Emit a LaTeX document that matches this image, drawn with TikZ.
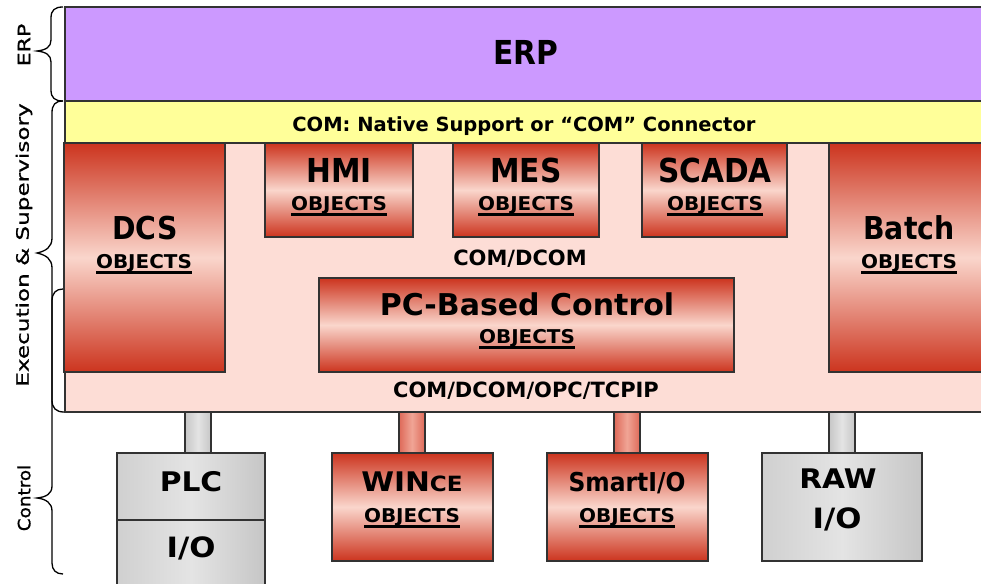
\documentclass[tikz,border=0pt]{standalone}
\usepackage{fontspec}
\setmainfont{DejaVu Sans}
\newfontfamily\fN{DejaVu Sans}[FakeStretch=0.9]
\newfontfamily\fW{DejaVu Sans}[FakeStretch=1.1]
\newfontfamily\fR{DejaVu Sans}
\newfontfamily\fO{DejaVu Sans}[FakeStretch=1.05]
\newfontfamily\fLa{DejaVu Sans}[FakeStretch=1.3,FakeBold=1]
\newfontfamily\fLb{DejaVu Sans}[FakeStretch=1.36,FakeBold=1]
\newfontfamily\fLc{DejaVu Sans}[FakeStretch=1.08,FakeBold=1]
\usetikzlibrary{fit,calc}
\definecolor{erpc}{RGB}{204,153,255}
\definecolor{comc}{RGB}{255,255,153}
\definecolor{bgc}{RGB}{253,221,214}
\definecolor{rdark}{RGB}{204,52,30}
\definecolor{rlight}{RGB}{250,214,204}
\definecolor{gdark}{RGB}{198,198,198}
\definecolor{glight}{RGB}{228,228,228}
\definecolor{gmid}{RGB}{208,208,208}
\definecolor{edge}{RGB}{50,50,50}
\definecolor{rbarl}{RGB}{222,105,88}
\definecolor{rbarm}{RGB}{240,165,150}
\newsavebox\objbox
\newcommand\objtext{\sbox\objbox{\fontsize{19}{19}\fO\bfseries OBJECTS}\rlap{\rule[-6pt]{\wd\objbox}{3pt}}\usebox\objbox}
\tikzset{
  frame/.style={draw=edge, line width=1.2pt, inner sep=0pt, outer sep=0pt},
  redbox/.style={frame, top color=rdark, bottom color=rdark, middle color=rlight},
  graybox/.style={frame, left color=gmid, right color=gdark, middle color=glight},
  graybar/.style={draw=edge, line width=1.2pt, left color=gdark, right color=gdark, middle color=glight},
  redbar/.style={draw=edge, line width=1.2pt, left color=rbarl, right color=rbarl, middle color=rbarm},
  txt/.style={anchor=base, inner sep=0pt},
  ttl/.style={txt, font=\fontsize{32}{32}\fN\bfseries},
  bttl/.style={txt, font=\fontsize{27}{27}\fW\bfseries},
  mid/.style={txt, font=\fontsize{21}{21}\fR\bfseries},
  lbl/.style={rotate=90, inner sep=0pt},
  bracepath/.style={draw=black, line width=1.3pt}
}
\begin{document}
\begin{tikzpicture}[x=1pt, y=-1pt]
\useasboundingbox (0,0) rectangle (981,583);
\clip (0,0) rectangle (981,583);
\fill[white] (0,0) rectangle (981,583);

% layers
\node[fit={(65,7)(995,101)}, frame, fill=erpc] (erp) {};
\node[fit={(65,101)(995,143)}, frame, fill=comc] (com) {};
\node[fit={(65,143)(995,412)}, frame, fill=bgc] (exec) {};

% object boxes
\node[fit={(64,143)(225,372)}, redbox] (dcs) {};
\node[fit={(265,143)(413,237)}, redbox] (hmi) {};
\node[fit={(453,143)(599,237)}, redbox] (mes) {};
\node[fit={(642,143)(787,237)}, redbox] (scada) {};
\node[fit={(829,143)(995,372)}, redbox] (batch) {};
\node[fit={(319,278)(734,372)}, redbox] (pcb) {};

% control level
\node[fit={(117,453)(265,520)}, graybox] (plc) {};
\node[fit={(117,520)(265,600)}, graybox] (plcio) {};
\node[fit={(332,453)(493,561)}, redbox] (wince) {};
\node[fit={(547,453)(708,561)}, redbox] (smart) {};
\node[fit={(762,453)(922,561)}, graybox] (raw) {};

% connectors
\draw[graybar] ($(plc.north)+(-6,0)$) rectangle ($(plc.north |- exec.south)+(20,0)$);
\draw[redbar] ($(wince.north)+(-13.5,0)$) rectangle ($(wince.north |- exec.south)+(12.5,0)$);
\draw[redbar] ($(smart.north)+(-13.5,0)$) rectangle ($(smart.north |- exec.south)+(12.5,0)$);
\draw[graybar] ($(raw.north)+(-13,0)$) rectangle ($(raw.north |- exec.south)+(13,0)$);

% texts
\node[ttl, font=\fontsize{33}{33}\fN\bfseries] (erpT) at (526,65) {ERP};
\node[txt, font=\fontsize{19.5}{19.5}\fR\bfseries] (comT) at (524,131) {COM: Native Support or “COM” Connector};
\node[ttl, font=\fontsize{31.5}{31.5}\fN\bfseries] (dcsT) at (145,239) {DCS};
\node[txt] (dcsO) at (144,268) {\objtext};
\node[ttl, font=\fontsize{33}{33}\fN\bfseries] (hmiT) at (339,182) {HMI};
\node[txt] (hmiO) at (339,210) {\objtext};
\node[ttl, font=\fontsize{33}{33}\fN\bfseries] (mesT) at (526,182) {MES};
\node[txt] (mesO) at (526,210) {\objtext};
\node[ttl, font=\fontsize{33}{33}\fN\bfseries] (scadaT) at (715,182) {SCADA};
\node[txt] (scadaO) at (715,210) {\objtext};
\node[ttl, font=\fontsize{31.5}{31.5}\fN\bfseries] (batchT) at (909,239) {Batch};
\node[txt] (batchO) at (909,268) {\objtext};
\node[mid] (comdcom) at (520,265) {COM/DCOM};
\node[txt, font=\fontsize{30}{30}\fR\bfseries] (pcbT) at (527,315) {PC-Based Control};
\node[txt] (pcbO) at (527,343) {\objtext};
\node[mid] (opc) at (526,397) {COM/DCOM/OPC/TCPIP};

\node[bttl] (plcT) at (191,491) {PLC};
\node[bttl, font=\fontsize{28}{28}\fW\bfseries] (plcioT) at (191,557) {I/O};
\node[bttl] (winceT) at (412,491) {WIN{\fontsize{21}{21}\selectfont CE}};
\node[txt] (winceO) at (412,522) {\objtext};
\node[txt, font=\fontsize{26}{26}\fN\bfseries] (smartT) at (627,491) {SmartI/O};
\node[txt] (smartO) at (627,522) {\objtext};
\node[bttl] (rawT) at (838,488) {RAW};
\node[bttl, font=\fontsize{28}{28}\fW\bfseries] (rawio) at (837,528) {I/O};

% left labels
\node[lbl, font=\fontsize{17}{17}\fLa] (lerp) at (24,45) {ERP};
\node[lbl, font=\fontsize{17}{17}\fLb] (lexec) at (24,245) {Execution \& Supervisory};
\node[lbl, font=\fontsize{17}{17}\fLc] (lctrl) at (24,498) {Control};

% braces
\draw[bracepath] (63,7) .. controls (55,7) and (51,10) .. (51,18) -- (51,40)
  .. controls (51,47) and (46,50) .. (37,51) .. controls (46,52) and (51,55) .. (51,62)
  -- (51,90) .. controls (51,98) and (55,101) .. (63,101);
\draw[bracepath] (63,101) .. controls (55,101) and (52,105) .. (52,113) -- (52,238)
  .. controls (52,247) and (46,251) .. (37,253) .. controls (46,255) and (52,259) .. (52,268)
  -- (52,400) .. controls (52,408) and (56,412) .. (64,412);
\draw[bracepath] (63,289) .. controls (56,289) and (52,293) .. (52,301) -- (52,486)
  .. controls (52,494) and (46,497) .. (37,498) .. controls (46,499) and (52,503) .. (52,511)
  -- (52,563) .. controls (52,570) and (56,574) .. (63,574);
\end{tikzpicture}
\end{document}
